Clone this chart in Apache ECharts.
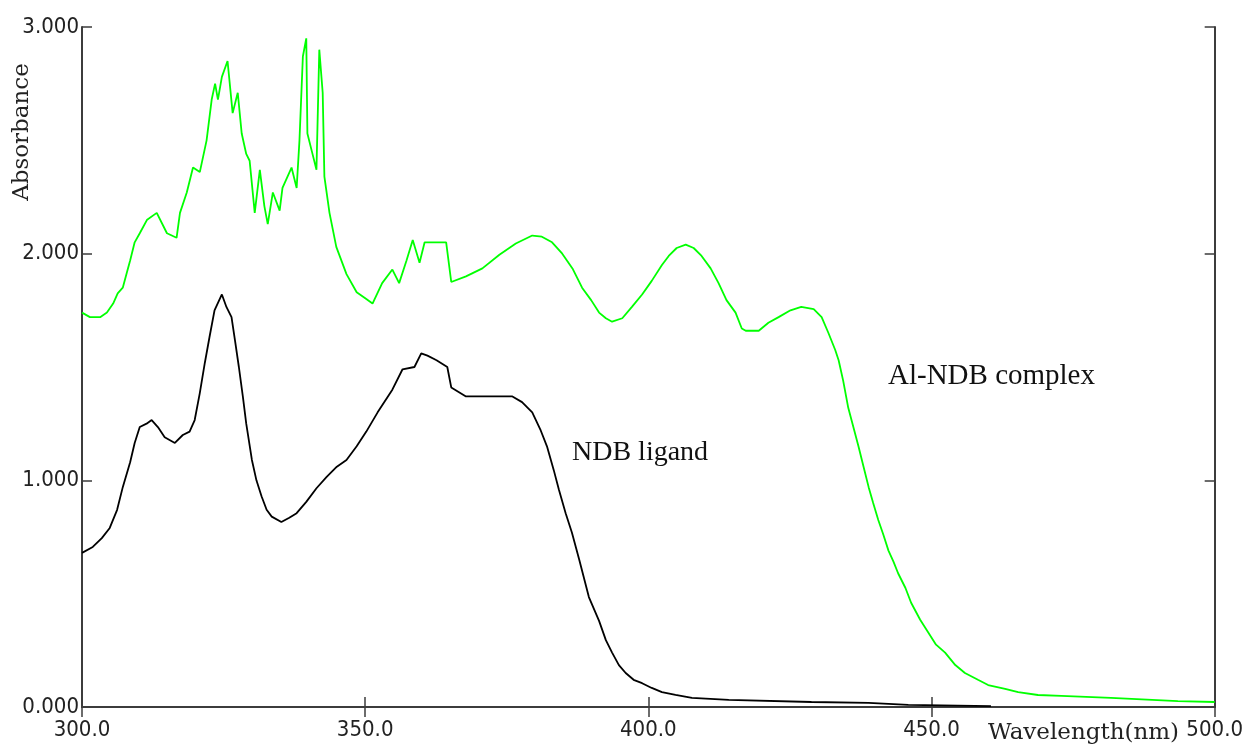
<!DOCTYPE html>
<html>
<head>
<meta charset="utf-8">
<script src="https://cdn.jsdelivr.net/npm/echarts@6/dist/echarts.min.js"></script>
<style>html,body{margin:0;padding:0;background:#fff}#c{width:1246px;height:746px}</style>
</head>
<body>
<div id="c"></div>
<script>
// NDB ligand spectrum (black)
const ligandWl = [300,301.9,303.5,304.9,306.2,307.2,308.5,309.3,310.2,311.4,312.3,313.4,314.6,316.4,317.8,319,319.9,320.8,321.7,322.5,323.4,324.7,325.5,326.4,327,327.7,328.4,329,330,330.8,331.7,332.6,333.5,335.2,336.6,337.9,339.6,341.4,343.2,345,346.7,348.5,350.2,352.2,354.8,356.6,358.7,359.9,361,362.6,364.5,365.2,367.8,373.7,376,377.7,379.5,381,382.1,383.3,384.2,385.4,386.5,387.8,389.5,391.3,392.5,393.6,394.8,396,397.4,398.9,400.6,402.4,404.8,407.7,414.2,428.8,438.9,445.9,460.5];
const ligandAbs = [0.68,0.706,0.745,0.79,0.87,0.97,1.08,1.165,1.235,1.25,1.266,1.235,1.19,1.165,1.2,1.215,1.266,1.385,1.52,1.63,1.75,1.82,1.765,1.72,1.62,1.5,1.37,1.25,1.09,1.0,0.93,0.87,0.84,0.816,0.835,0.855,0.905,0.965,1.015,1.06,1.09,1.15,1.215,1.30,1.40,1.49,1.50,1.56,1.55,1.53,1.50,1.41,1.37,1.37,1.37,1.345,1.30,1.22,1.15,1.045,0.96,0.855,0.77,0.65,0.485,0.38,0.295,0.24,0.185,0.15,0.12,0.105,0.084,0.066,0.053,0.04,0.031,0.022,0.018,0.009,0.004];
// Al-NDB complex spectrum (green)
const complexWl = [300,301.4,303.2,304.4,305.5,306.3,307.2,307.9,308.5,309.3,310.2,311.5,313.2,315,316.7,317.3,318.5,319.6,320.8,322,322.9,323.5,324,324.7,325.7,326.6,327.5,328.2,329,329.6,330.5,331.4,332.2,332.8,333.7,334.9,335.4,337,337.9,338.4,339,339.6,339.8,340.5,341.4,341.9,342.5,342.8,343.7,344.9,346.7,348.5,350.2,351.3,353,354.8,356,357.3,358.4,359.6,360.5,364.3,365.2,367.8,370.7,373.7,376.6,379.5,381.2,383,384.8,386.6,388.3,389.9,391.3,392.5,393.6,395.4,397.1,398.9,400.6,402.4,403.6,405,406.6,408,409.4,411,412.4,413.8,415.4,416.5,417.2,419.5,421.2,423,425.1,427,429.2,430.6,431.8,433,433.6,434.4,435.3,436.2,437.1,438,438.9,439.7,440.6,441.5,442.4,443.3,444.1,445.4,446.4,448,449.4,450.8,452.4,454.2,455.9,458.2,460,463,465.3,468.8,472.9,481.7,493.5,500];
const complexAbs = [1.74,1.72,1.72,1.74,1.78,1.825,1.85,1.915,1.97,2.05,2.09,2.15,2.18,2.09,2.07,2.18,2.27,2.38,2.36,2.50,2.68,2.75,2.68,2.78,2.85,2.62,2.71,2.53,2.44,2.41,2.18,2.37,2.21,2.13,2.27,2.19,2.29,2.38,2.29,2.50,2.87,2.95,2.53,2.46,2.37,2.90,2.71,2.34,2.18,2.03,1.91,1.83,1.80,1.78,1.87,1.93,1.87,1.97,2.06,1.96,2.05,2.05,1.875,1.90,1.935,1.995,2.045,2.08,2.075,2.05,2.0,1.935,1.85,1.795,1.74,1.715,1.70,1.715,1.765,1.82,1.88,1.95,1.99,2.025,2.04,2.025,1.99,1.935,1.87,1.795,1.74,1.67,1.66,1.66,1.695,1.72,1.75,1.765,1.755,1.72,1.65,1.575,1.53,1.44,1.32,1.235,1.15,1.06,0.97,0.90,0.825,0.76,0.69,0.64,0.59,0.525,0.46,0.385,0.33,0.275,0.24,0.185,0.15,0.12,0.097,0.08,0.066,0.053,0.049,0.04,0.026,0.022];
const xTicks = [300,350,400,450,500];
const yTicks = [0,1,2,3];

const pair = (xs, ys) => xs.map((x, i) => [x, ys[i]]);
const labelFont = {fontFamily: '"Liberation Sans Narrow","DejaVu Sans Condensed","Liberation Sans",sans-serif', fontSize: 22, color: '#222'};
const frame = {show: true, lineStyle: {color: '#3c3c3c', width: 2}};
const tick = {show: true, inside: true, length: 10, lineStyle: {color: '#3c3c3c', width: 1.5}};

const chart = echarts.init(document.getElementById('c'), null, {renderer: 'canvas'});
chart.setOption({
  animation: false,
  backgroundColor: '#ffffff',
  grid: {left: 82, right: 29, top: 27, bottom: 39, containLabel: false},
  xAxis: [
    {type: 'value', position: 'bottom', min: xTicks[0], max: xTicks[xTicks.length-1], interval: 50,
     axisLine: frame, axisTick: tick, splitLine: {show: false},
     axisLabel: Object.assign({margin: 12, formatter: v => v.toFixed(1)}, labelFont)},
    {type: 'value', position: 'top', min: xTicks[0], max: xTicks[xTicks.length-1], interval: 50,
     axisLine: frame, axisTick: tick, splitLine: {show: false}, axisLabel: {show: false}}
  ],
  yAxis: [
    {type: 'value', position: 'left', min: yTicks[0], max: yTicks[yTicks.length-1], interval: 1,
     axisLine: frame, axisTick: tick, splitLine: {show: false},
     axisLabel: Object.assign({margin: 3, formatter: v => v.toFixed(3)}, labelFont)},
    {type: 'value', position: 'right', min: yTicks[0], max: yTicks[yTicks.length-1], interval: 1,
     axisLine: frame, axisTick: tick, splitLine: {show: false}, axisLabel: {show: false}}
  ],
  series: [
    {name: 'NDB ligand', type: 'line', data: pair(ligandWl, ligandAbs), showSymbol: false, smooth: false,
     lineStyle: {color: '#000000', width: 1.8}, z: 3},
    {name: 'Al-NDB complex', type: 'line', data: pair(complexWl, complexAbs), showSymbol: false, smooth: false,
     lineStyle: {color: '#00ff00', width: 1.8}, z: 2}
  ],
  graphic: [
    {type: 'text', x: 22, y: 132, rotation: Math.PI / 2,
     style: {text: 'Absorbance', font: '23px "DejaVu Serif", serif', fill: '#222', align: 'center', verticalAlign: 'middle'}},
    {type: 'text', x: 988, y: 733,
     style: {text: 'Wavelength(nm)', font: '23px "DejaVu Serif", serif', fill: '#222', align: 'left', verticalAlign: 'middle'}},
    {type: 'text', x: 572, y: 453,
     style: {text: 'NDB ligand', font: '28px "Liberation Serif", serif', fill: '#111', align: 'left', verticalAlign: 'middle'}},
    {type: 'text', x: 888, y: 376,
     style: {text: 'Al-NDB complex', font: '29px "Liberation Serif", serif', fill: '#111', align: 'left', verticalAlign: 'middle'}}
  ]
});
</script>
</body>
</html>
